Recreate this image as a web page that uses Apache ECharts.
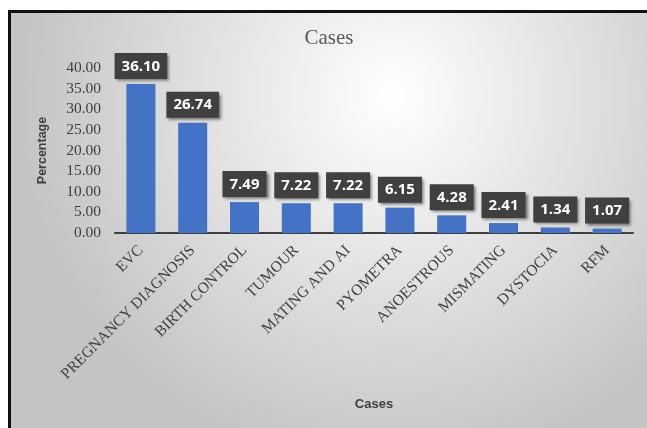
<!DOCTYPE html>
<html><head><meta charset="utf-8">
<script src="https://cdn.jsdelivr.net/npm/echarts@6/dist/echarts.min.js"></script>
<style>
html,body{margin:0;padding:0;background:#fff;width:647px;height:428px;overflow:hidden;}
#frame{position:absolute;left:8px;top:10px;width:660px;height:440px;border-left:3px solid #111;border-top:3px solid #111;}
#chart{position:absolute;left:11px;top:13px;width:636px;height:415px;}
</style></head>
<body><div id="frame"></div><div id="chart"></div>
<script>
const categories = ['EVC','PREGNANCY DIAGNOSIS','BIRTH CONTROL','TUMOUR','MATING AND AI','PYOMETRA','ANOESTROUS','MISMATING','DYSTOCIA','RFM'];
const percentages = [36.10, 26.74, 7.49, 7.22, 7.22, 6.15, 4.28, 2.41, 1.34, 1.07];
const chart = echarts.init(document.getElementById('chart'));
chart.setOption({
  backgroundColor: {type:'radial', x:0.6, y:0.2, r:0.9, colorStops:[{offset:0,color:'#ffffff'},{offset:1,color:'#c4c4c4'}]},
  title: {text:'Cases', left:'center', top:10, textStyle:{fontFamily:'Liberation Serif', fontSize:21, fontWeight:'normal', color:'#595959'}},
  grid: {left:104, right:14, top:55, bottom:195},
  xAxis: {type:'category', data:categories, name:'Cases', nameLocation:'middle', nameGap:165,
    nameTextStyle:{fontFamily:'Liberation Sans', fontWeight:'bold', fontSize:13, color:'#404040'},
    axisLine:{lineStyle:{color:'#404040', width:2}}, axisTick:{show:false},
    axisLabel:{rotate:45, interval:0, margin:15, fontFamily:'Liberation Serif', fontSize:15.5, color:'#404040'}},
  yAxis: {type:'value', min:0, max:40, interval:5, name:'Percentage', nameLocation:'middle', nameGap:66, nameRotate:90,
    nameTextStyle:{fontFamily:'Liberation Sans', fontWeight:'bold', fontSize:12.5, color:'#404040'},
    axisLine:{show:false}, axisTick:{show:false}, splitLine:{show:false},
    axisLabel:{formatter:v=>v.toFixed(2), margin:14, fontFamily:'Liberation Serif', fontSize:15.5, color:'#404040'}},
  series: [{type:'bar', data:percentages, barWidth:'56%', itemStyle:{color:'#4472C4'},
    label:{show:true, position:'top', distance:5, formatter:p=>p.value.toFixed(2),
      backgroundColor:'#404040', padding:[6,7,5,7], color:'#fff', fontWeight:'bold', fontSize:15, fontFamily:'Open Sans',
      shadowBlur:3, shadowColor:'rgba(0,0,0,0.5)', shadowOffsetX:2, shadowOffsetY:2}}]
});
</script></body></html>
